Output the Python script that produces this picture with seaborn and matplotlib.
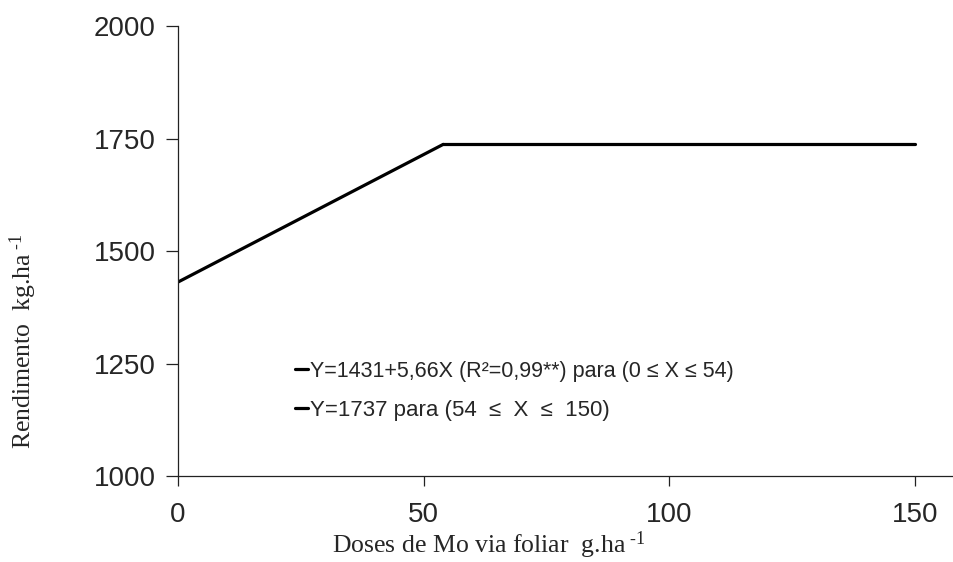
import pandas as pd
import matplotlib
matplotlib.use('Agg')
import matplotlib.pyplot as plt
import seaborn as sns

# dados: segmentos do modelo linear-platô
dose_linear = [0, 54]
rend_linear = [1431, 1737]
dose_plato = [54, 150]
rend_plato = [1737, 1737]

label_linear = 'Y=1431+5,66X (R²=0,99**) para (0 ≤ X ≤ 54)'
label_plato = 'Y=1737 para (54  ≤  X  ≤  150)'

xticks = [0, 50, 100, 150]
yticks = [1000, 1250, 1500, 1750, 2000]

sns.set_style('ticks')
plt.rcParams['font.family'] = ['Liberation Sans', 'DejaVu Sans']
plt.rcParams['mathtext.fontset'] = 'custom'
plt.rcParams['mathtext.rm'] = 'Liberation Serif'
plt.rcParams['mathtext.it'] = 'Liberation Serif:italic'
plt.rcParams['mathtext.bf'] = 'Liberation Serif:bold'

df = pd.concat([
    pd.DataFrame({'dose': dose_linear, 'rend': rend_linear, 'seg': label_linear}),
    pd.DataFrame({'dose': dose_plato, 'rend': rend_plato, 'seg': label_plato}),
])

fig = plt.figure(figsize=(9.54, 5.62), dpi=100)
ax = fig.add_axes([0.1866, 0.1530, 0.8134, 0.8007])

sns.lineplot(data=df, x='dose', y='rend', hue='seg',
             palette=['black', 'black'], linewidth=2.3, ax=ax, legend=True)

ax.set_xlim(0, 158)
ax.set_ylim(1000, 2000)
ax.set_xticks(xticks)
ax.set_yticks(yticks)
ax.set_xlabel('')
ax.set_ylabel('')

for s in ['top', 'right']:
    ax.spines[s].set_visible(False)
for s in ['left', 'bottom']:
    ax.spines[s].set_linewidth(0.9)
    ax.spines[s].set_color('#222222')

ax.tick_params(axis='y', length=9, width=0.9, pad=7, labelsize=20, color='#222222')
ax.tick_params(axis='x', length=7, width=0.9, pad=12, labelsize=20, color='#222222')

# legenda sem moldura
handles, labels = ax.get_legend_handles_labels()
leg = ax.legend(handles, labels, loc='center left',
                bbox_to_anchor=(0.309, 0.304), bbox_transform=fig.transFigure,
                frameon=False, fontsize=16, handlelength=0.6, handletextpad=0.1,
                labelspacing=0.8, borderpad=0, borderaxespad=0)
leg.get_texts()[0].set_fontsize(15.5)
for h in leg.get_lines():
    h.set_linewidth(2.3)

# rótulos dos eixos (fonte serifada)
fig.text(489 / 954, 1 - 545 / 562, 'Doses de Mo via foliar  g.ha$^{\\text{ -1}}$',
         ha='center', va='center', fontsize=18.5, family='Liberation Serif')
fig.text(23 / 954, 1 - 341 / 562, 'Rendimento  kg.ha$^{\\text{ -1}}$',
         ha='center', va='center', rotation=90, fontsize=18.5,
         family='Liberation Serif')

plt.savefig('out.png', dpi=100, facecolor='white')
